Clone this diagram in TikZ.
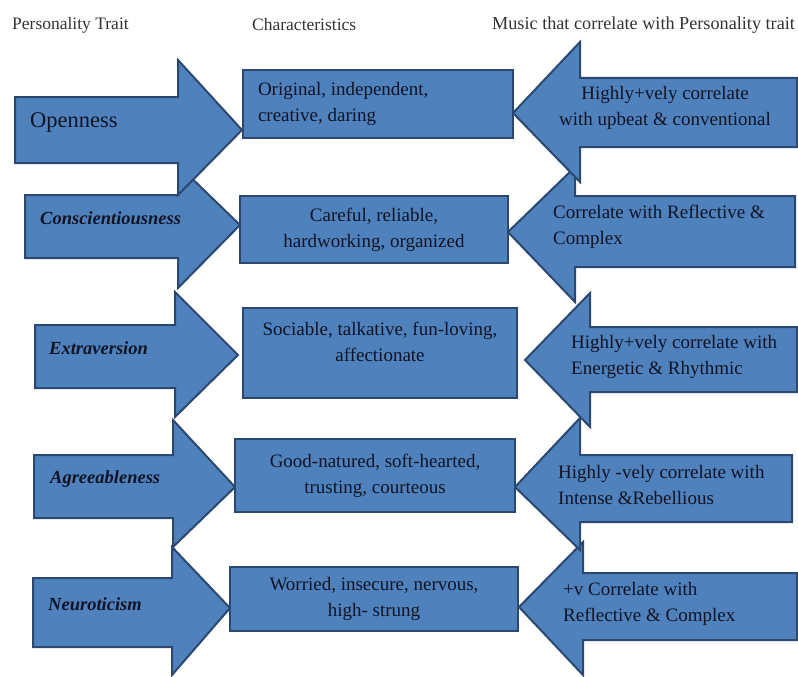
\documentclass[tikz,border=0pt]{standalone}
\usepackage{fontspec}
\setmainfont{Liberation Serif}
\frenchspacing

\definecolor{boxblue}{RGB}{79,129,189}
\definecolor{boxline}{RGB}{42,72,112}
\definecolor{ink}{RGB}{16,20,36}

\begin{document}
\begin{tikzpicture}[x=1pt,y=-1pt,
  blk/.style={fill=boxblue,draw=boxline,line width=2pt},
  charbox/.style={blk,rectangle,inner sep=0pt,text=ink,font=\fontsize{19}{26}\selectfont},
  txt/.style={text=ink,font=\fontsize{19}{26}\selectfont,inner sep=0pt},
  trait/.style={text=ink,font=\fontsize{18.5}{24}\selectfont\bfseries\itshape,inner sep=0pt,anchor=west},
  head/.style={text=black!80,font=\fontsize{17.5}{20}\selectfont,inner sep=0pt,anchor=west}]
\useasboundingbox (0,0) rectangle (798,677);

% column headers
\node[head] (h1) at (12,25)  {Personality Trait};
\node[head] (h2) at (252,25) {Characteristics};
\node[head,font=\fontsize{18.2}{20}\selectfont] (h3) at (492,25) {Music that correlate with Personality trait};

% music arrows (pointing left), lowest first
\draw[blk] (797,573) -- (583,573) -- (583,542) -- (519,607) -- (583,675) -- (583,640) -- (797,640) -- cycle;
\draw[blk] (792,455) -- (580,455) -- (580,418) -- (515,487) -- (580,550) -- (580,522) -- (792,522) -- cycle;
\draw[blk] (797,327) -- (590,327) -- (590,293) -- (525,360) -- (590,427) -- (590,392) -- (797,392) -- cycle;
\draw[blk] (795,196) -- (575,196) -- (575,167) -- (508,232) -- (575,302) -- (575,267) -- (795,267) -- cycle;
\draw[blk] (797,78)  -- (580,78)  -- (580,42)  -- (513,113) -- (580,182) -- (580,147) -- (797,147) -- cycle;

% trait arrows (pointing right), lowest first
\draw[blk] (33,578) -- (172,578) -- (172,547) -- (230,608) -- (172,675) -- (172,647) -- (33,647) -- cycle;
\draw[blk] (34,455) -- (173,455) -- (173,420) -- (235,487) -- (173,547) -- (173,518) -- (34,518) -- cycle;
\draw[blk] (35,325) -- (175,325) -- (175,292) -- (238,355) -- (175,417) -- (175,388) -- (35,388) -- cycle;
\draw[blk] (25,195) -- (178,195) -- (178,165) -- (240,225) -- (178,288) -- (178,258) -- (25,258) -- cycle;
\draw[blk] (15,97)  -- (178,97)  -- (178,60)  -- (242,130) -- (178,195) -- (178,163) -- (15,163) -- cycle;

% characteristics
\node[charbox,minimum width=270pt,minimum height=68pt,text width=240pt,align=flush left] (c1) at (378,104)
  {Original, independent,\\creative, daring};
\node[charbox,minimum width=268pt,minimum height=67pt,align=center] (c2) at (374,229.5)
  {Careful, reliable,\\hardworking, organized};
\node[charbox,minimum width=274pt,minimum height=90pt] (c3) at (380,353) {};
\node[txt,align=center] (c3t) at (380,342) {Sociable, talkative, fun-loving,\\affectionate};
\node[charbox,minimum width=280pt,minimum height=73pt,align=center] (c4) at (375,475.5)
  {Good-natured, soft-hearted,\\trusting, courteous};
\node[charbox,minimum width=288pt,minimum height=64pt,align=center] (c5) at (374,599)
  {Worried, insecure, nervous,\\high- strung};

% traits
\node[text=ink,font=\fontsize{22.5}{24}\selectfont,inner sep=0pt,anchor=west] (t1) at (30,122) {Openness};
\node[trait] (t2) at (40,218) {Conscientiousness};
\node[trait] (t3) at (49,348) {Extraversion};
\node[trait] (t4) at (50,479) {Agreeableness};
\node[trait] (t5) at (48,604) {Neuroticism};

% music
\node[txt,align=center] (m1) at (665,107.5) {Highly+vely correlate\\with upbeat \& conventional};
\node[txt,align=left,anchor=west] (m2) at (553,226.5) {Correlate with Reflective \&\\Complex};
\node[txt,align=left,anchor=west] (m3) at (571,356.5) {Highly+vely correlate with\\Energetic \& Rhythmic};
\node[txt,align=left,anchor=west] (m4) at (558,484.5) {Highly -vely correlate with\\Intense \&Rebellious};
\node[txt,align=left,anchor=west] (m5) at (563,603.5) {+v Correlate with\\Reflective \& Complex};
\end{tikzpicture}
\end{document}
